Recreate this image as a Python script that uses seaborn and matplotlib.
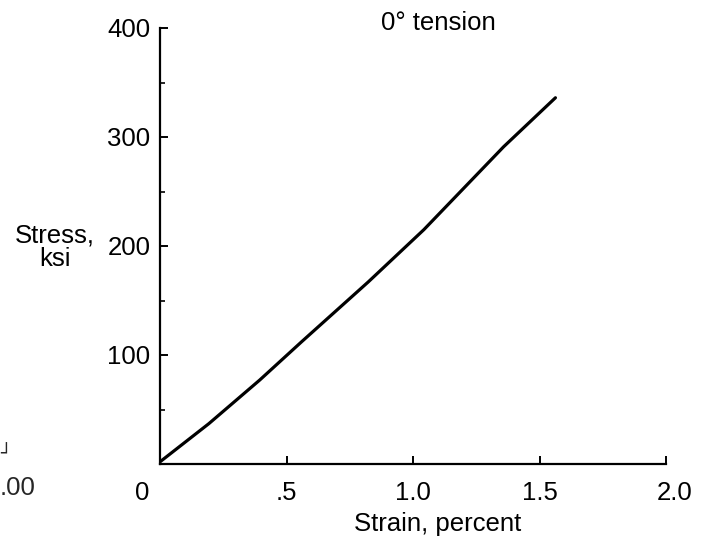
import matplotlib
matplotlib.use("Agg")
import matplotlib.pyplot as plt
import matplotlib.transforms as mtransforms
from matplotlib.ticker import MultipleLocator
import numpy as np
import pandas as pd
import seaborn as sns

# Stress-strain response, 0 degree tension
strain = [0.0, 0.193, 0.394, 0.559, 0.823, 1.043, 1.358, 1.563]
stress = [2, 37, 77, 112, 167, 215, 291, 336]

x_ticks = [0.0, 0.5, 1.0, 1.5, 2.0]
x_tick_labels = ["0", ".5", "1.0", "1.5", "2.0"]
y_ticks = [100, 200, 300, 400]
y_tick_labels = ["100", "200", "300", "400"]

sns.set_theme(style="ticks")
plt.rcParams["font.family"] = ["Liberation Sans", "DejaVu Sans"]

FS = 18.5
W, H = 713, 544
fig = plt.figure(figsize=(W / 100, H / 100), dpi=100)
ax = fig.add_axes([160 / W, 1 - 464 / H, (666 - 160) / W, (464 - 28) / H])

df = pd.DataFrame({"strain": strain, "stress": stress})
sns.lineplot(data=df, x="strain", y="stress", ax=ax, color="black",
             linewidth=2.3, estimator=None, sort=False)

ax.set_xlim(0, 2.0)
ax.set_ylim(0, 400)
sns.despine(ax=ax)
for side in ("left", "bottom"):
    ax.spines[side].set_linewidth(1.6)
    ax.spines[side].set_color("black")

ax.set_xticks(x_ticks)
ax.set_xticklabels(x_tick_labels)
ax.set_yticks(y_ticks)
ax.set_yticklabels(y_tick_labels)
ax.yaxis.set_minor_locator(MultipleLocator(50))

ax.tick_params(axis="x", direction="in", length=5.5, width=1.4,
               pad=12, labelsize=FS, colors="black")
ax.tick_params(axis="y", which="major", direction="in", length=6,
               width=1.4, pad=7, labelsize=FS, colors="black")
ax.tick_params(axis="y", which="minor", direction="in", length=3.5,
               width=1.2, colors="black")

# nudge the end labels along the strain axis
labels = ax.get_xticklabels()
labels[0].set_transform(labels[0].get_transform() +
                        mtransforms.ScaledTranslation(-18 / 100, 0, fig.dpi_scale_trans))
labels[-1].set_transform(labels[-1].get_transform() +
                         mtransforms.ScaledTranslation(9 / 100, 0, fig.dpi_scale_trans))

ax.set_xlabel("Strain, percent", fontsize=FS, color="black")
ax.xaxis.set_label_coords((438 - 160) / (666 - 160), -(524 - 464) / (464 - 28))
ax.xaxis.label.set_va("center")

ax.set_ylabel("Stress,\nksi", fontsize=FS, rotation=0, color="black",
              ha="center", va="center", multialignment="center",
              linespacing=1.0)
ax.yaxis.set_label_coords((55 - 160) / (666 - 160), (464 - 247) / (464 - 28))

ax.set_title("0\u00b0 tension", fontsize=FS, color="black",
             x=(438 - 160) / (666 - 160), y=(464 - 30) / (464 - 28), pad=0)

# fragment of the neighbouring panel at the left edge
fig.text(0, 1 - 488 / H, ".00", fontsize=FS, ha="left", va="center")
fig.text(0, 1 - 454 / H, "\u2518", fontsize=13, ha="left", va="center",
         family="DejaVu Sans", fontweight="bold")

fig.savefig("out.png", dpi=100, facecolor="white")
